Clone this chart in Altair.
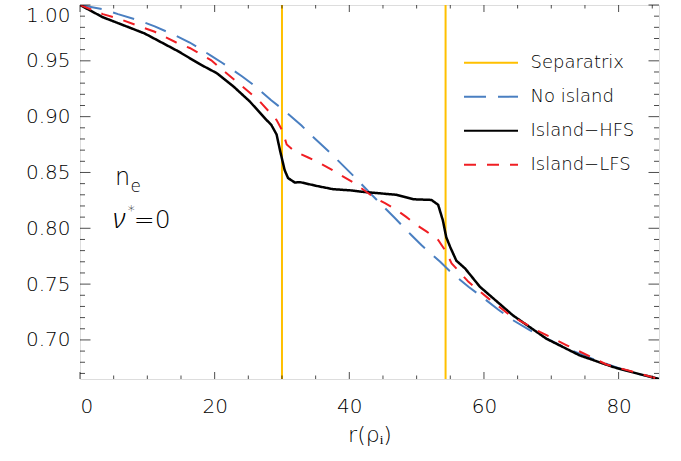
import altair as alt
import pandas as pd

# ---- data ----
series_names = ["Separatrix", "No island", "Island\u2212HFS", "Island\u2212LFS"]
series_colors = ["#FFC000", "#4A7FC1", "#000000", "#F01E23"]

separatrix_r = [30.0, 54.3]

noisl_r = [0, 3.4, 5.65, 8.9, 11.1, 14.3, 16.3, 19.5, 21.1, 24.1, 25.7, 28.4, 30.2, 32.9, 34.4,
           37.1, 38.6, 41.1, 43.1, 45.3, 46.8, 49.2, 50.7, 53.5, 54.9, 57.7, 59.4, 62.1, 64.3,
           66.8, 72.3, 76.7, 81.7, 86.0]
noisl_n = [1.0, 0.9963, 0.9918, 0.9859, 0.9808, 0.9724, 0.9664, 0.9545, 0.9483, 0.936, 0.9287,
           0.9146, 0.9062, 0.892, 0.883, 0.868, 0.859, 0.844, 0.8314, 0.818, 0.809, 0.794, 0.785,
           0.770, 0.7617, 0.7476, 0.740, 0.7273, 0.7177, 0.7087, 0.6922, 0.6817, 0.6712, 0.665]

hfs_r = [0, 3.4, 4.7, 9.6, 14.6, 17.8, 20.3, 22.8, 25.2, 27.7, 28.4, 29.2, 29.7, 30.4, 30.9,
         31.9, 32.7, 35.1, 37.6, 40.1, 42.1, 47.0, 49.5, 52.2, 53.2, 53.9, 54.4, 55.0, 55.9,
         57.2, 59.4, 64.3, 69.3, 74.2, 79.2, 82.7, 86.0]
hfs_n = [1.0, 0.989, 0.986, 0.9745, 0.9585, 0.947, 0.939, 0.927, 0.9137, 0.897, 0.8928, 0.884,
         0.870, 0.852, 0.845, 0.841, 0.8413, 0.838, 0.835, 0.834, 0.8326, 0.830, 0.826, 0.8254,
         0.821, 0.807, 0.792, 0.783, 0.771, 0.764, 0.7476, 0.722, 0.701, 0.6862, 0.6757, 0.670,
         0.665]

lfs_r = [0, 3.4, 5.65, 8.9, 11.1, 14.3, 16.3, 19.5, 21.0, 23.8, 26.7, 29.2, 30.1, 30.7, 31.9,
         33.9, 35.1, 37.1, 38.9, 40.5, 42.0, 43.5, 45.3, 47.0, 48.4, 50.0, 51.5, 53.2, 54.2,
         55.2, 57.7, 60.7, 63.9, 68.3, 72.3, 78.2, 86.0]
lfs_n = [1.0, 0.9918, 0.988, 0.9808, 0.976, 0.9664, 0.9615, 0.9505, 0.9426, 0.9287, 0.9137, 0.897,
         0.8868, 0.875, 0.8688, 0.8634, 0.860, 0.8535, 0.847, 0.8413, 0.835, 0.8284, 0.8225,
         0.8165, 0.8104, 0.803, 0.797, 0.7895, 0.7805, 0.7686, 0.752, 0.737, 0.722, 0.7072,
         0.6952, 0.678, 0.665]

x_labels = [0, 20, 40, 60, 80]
x_major = [0, 20, 40, 60, 80]
x_minor = [5, 10, 15, 25, 30, 35, 45, 50, 55, 65, 70, 75, 85]
y_labels = [0.70, 0.75, 0.80, 0.85, 0.90, 0.95, 1.00]
y_minor = [0.67, 0.68, 0.69, 0.71, 0.72, 0.73, 0.74, 0.76, 0.77, 0.78, 0.79, 0.81, 0.82, 0.83,
           0.84, 0.86, 0.87, 0.88, 0.89, 0.91, 0.92, 0.93, 0.94, 0.96, 0.97, 0.98, 0.99]

x_domain = [0, 86]
y_domain = [0.665, 1.0]

FONT = "DejaVu Sans"

xs = alt.Scale(domain=x_domain, nice=False, zero=False)
ys = alt.Scale(domain=y_domain, nice=False, zero=False)
cs = alt.Scale(domain=series_names, range=series_colors)
ds = alt.Scale(domain=series_names, range=[[1, 0], [22, 12], [1, 0], [12, 11]])

legend = alt.Legend(title=None, orient="none", legendX=396.5, legendY=43.2, symbolType="M-2,0H2",
                    symbolSize=729, symbolStrokeWidth=2, labelFont=FONT, labelFontSize=18,
                    labelFontWeight=300, labelColor="black", labelOffset=25, rowPadding=10,
                    padding=0, symbolOffset=0)

x_axis = alt.Axis(values=x_labels, tickSize=0, domain=False, grid=False, labelFont=FONT,
                  labelFontSize=20, labelFontWeight=300, labelColor="black", labelPadding=17,
                  title="r(\u03c1\u1d62)", titleFont=FONT, titleFontSize=22, titleFontWeight=300,
                  titleColor="black", titlePadding=8, format="d")
y_axis = alt.Axis(values=y_labels, tickSize=0, domain=False, grid=False, labelFont=FONT,
                  labelFontSize=20, labelFontWeight=300, labelColor="black", labelPadding=10,
                  labelFlush=True, title=None, format=".2f")


def series_df(name, r, n):
    return pd.DataFrame({"r": r, "n": n, "series": name})


sep_df = pd.DataFrame({"r": separatrix_r, "series": series_names[0]})

sep = alt.Chart(sep_df).mark_rule(strokeWidth=2).encode(
    x=alt.X("r:Q", scale=xs, axis=x_axis),
    color=alt.Color("series:N", scale=cs, legend=legend, sort=series_names),
    strokeDash=alt.StrokeDash("series:N", scale=ds, legend=legend, sort=series_names),
)


def line_layer(df, width):
    return alt.Chart(df).mark_line(strokeWidth=width, clip=True).encode(
        x=alt.X("r:Q", scale=xs, axis=x_axis),
        y=alt.Y("n:Q", scale=ys, axis=y_axis),
        color=alt.Color("series:N", scale=cs, legend=legend, sort=series_names),
        strokeDash=alt.StrokeDash("series:N", scale=ds, legend=legend, sort=series_names),
    )


blue = line_layer(series_df(series_names[1], noisl_r, noisl_n), 2)
black = line_layer(series_df(series_names[2], hfs_r, hfs_n), 2.5)
red = line_layer(series_df(series_names[3], lfs_r, lfs_n), 2)


def xticks(vals, size, at, sign):
    return alt.Chart(pd.DataFrame({"t": vals})).mark_tick(
        orient="vertical", size=size, thickness=1, color="black", yOffset=sign * size / 2
    ).encode(x=alt.X("t:Q", scale=xs, axis=x_axis), y=alt.Y(datum=at, scale=ys, axis=y_axis))


def yticks(vals, size, at, sign):
    return alt.Chart(pd.DataFrame({"t": vals})).mark_tick(
        orient="horizontal", size=size, thickness=1, color="black", xOffset=sign * size / 2
    ).encode(y=alt.Y("t:Q", scale=ys, axis=y_axis), x=alt.X(datum=at, scale=xs, axis=x_axis))


ticks = [
    xticks(x_major, 7, y_domain[0], -1), xticks(x_minor, 3.5, y_domain[0], -1),
    xticks(x_major, 7, y_domain[1], 1), xticks(x_minor, 3.5, y_domain[1], 1),
    yticks(y_labels, 10.5, x_domain[0], 1), yticks(y_minor, 5, x_domain[0], 1),
    yticks(y_labels, 10.5, x_domain[1], -1), yticks(y_minor, 5, x_domain[1], -1),
]


def label(txt, x, y, size, font=FONT, style="normal", weight=300):
    return alt.Chart(pd.DataFrame({"t": [txt]})).mark_text(
        align="left", baseline="alphabetic", font=font, fontSize=size, fontStyle=style,
        fontWeight=weight, color="black"
    ).encode(x=alt.X(datum=x, scale=xs, axis=x_axis), y=alt.Y(datum=y, scale=ys, axis=y_axis),
             text="t:N")


texts = [
    label("n", 5.2, 0.839, 24),
    label("e", 7.5, 0.8325, 17),
    label("\u03bd", 4.9, 0.80, 27, font="Noto Sans", style="italic", weight=300),
    label("*", 7.1, 0.812, 14),
    label("=0", 8.0, 0.80, 25),
]

chart = alt.layer(sep, blue, black, red, *ticks, *texts).properties(
    width=579, height=374,
    autosize=alt.AutoSizeParams(type="none"),
    padding={"left": 80, "top": 5, "right": 22, "bottom": 82},
).configure_view(stroke="black", strokeWidth=1.5).configure(background="white")

chart.save("out.html", embed_options={"renderer": "svg", "actions": False})
